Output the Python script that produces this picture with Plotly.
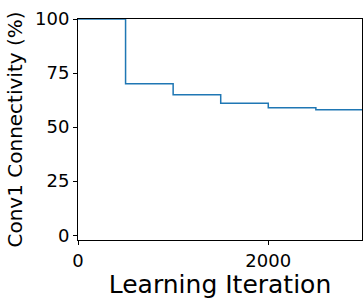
import plotly.graph_objects as go

iterations = [0, 500, 1000, 1500, 2000, 2500, 3000]
connectivity = [100, 70, 65, 61, 59, 58, 58]
x_ticks = [0, 2000]
y_ticks = [0, 25, 50, 75, 100]

fig = go.Figure()
fig.add_trace(go.Scatter(
    x=iterations, y=connectivity, mode="lines",
    line=dict(shape="hv", color="#1f77b4", width=1.5),
    showlegend=False,
))

font = "DejaVu Sans"
fig.update_layout(
    width=363, height=299,
    margin=dict(l=78, r=1, t=19, b=59),
    paper_bgcolor="white", plot_bgcolor="white",
    font=dict(family=font, color="black"),
    xaxis=dict(
        range=[0, 2985], tickvals=x_ticks, ticktext=[str(v) for v in x_ticks],
        showline=True, linecolor="black", linewidth=1, mirror=True,
        ticks="outside", ticklen=4, tickwidth=1, tickcolor="black",
        showgrid=False, zeroline=False,
        tickfont=dict(size=18, family=font),
        title=dict(text="Learning Iteration", font=dict(size=25, family=font), standoff=8),
        automargin=False,
    ),
    yaxis=dict(
        range=[-2.2, 100], tickvals=y_ticks, ticktext=[str(v) for v in y_ticks],
        showline=True, linecolor="black", linewidth=1, mirror=True,
        ticks="outside", ticklen=4, tickwidth=1, tickcolor="black",
        showgrid=False, zeroline=False,
        tickfont=dict(size=18, family=font),
        title=dict(text="Conv1 Connectivity (%)", font=dict(size=20, family=font), standoff=7),
        automargin=False,
    ),
)
fig.write_html(
    "out.html",
    config={"displayModeBar": False},
    post_script="document.body.style.margin='0';document.body.style.overflow='hidden';",
)
